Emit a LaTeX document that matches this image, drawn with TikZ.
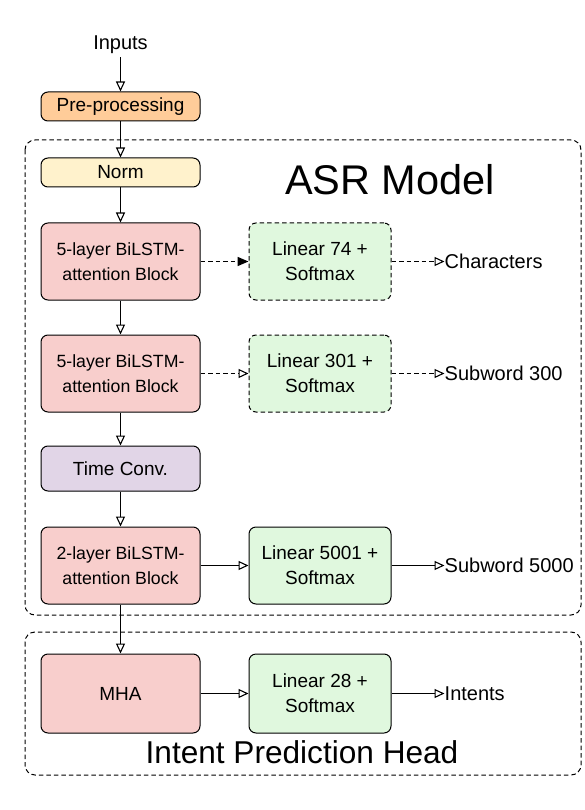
\documentclass[tikz,border=0pt]{standalone}
\usepackage{fontspec}
\setmainfont{Liberation Sans}
\usetikzlibrary{arrows.meta,positioning,calc}

\definecolor{prepfill}{HTML}{FFCC99}
\definecolor{normfill}{HTML}{FFF2CC}
\definecolor{blockfill}{HTML}{F8CECC}
\definecolor{linfill}{HTML}{E0F8DE}
\definecolor{convfill}{HTML}{E1D5E7}

\begin{document}
\begin{tikzpicture}[
    x=1pt, y=1pt,
    >=Stealth,
    node distance=34pt and 48pt,
    box/.style={draw, line width=1pt, rounded corners=7pt, minimum width=159pt, align=center, font=\fontsize{19}{24}\selectfont},
    prepbox/.style={box, fill=prepfill, minimum height=29pt},
    normbox/.style={box, fill=normfill, minimum height=29pt},
    blstm/.style={box, fill=blockfill, minimum height=77pt, font=\fontsize{17.7}{25}\selectfont},
    convbox/.style={box, fill=convfill, minimum height=45pt},
    linear/.style={box, fill=linfill, minimum width=142pt, minimum height=77pt, font=\fontsize{19}{25}\selectfont},
    outtext/.style={anchor=west, inner sep=0pt, font=\fontsize{20}{24}\selectfont},
    group/.style={draw, line width=1pt, dash pattern=on 4.5pt off 3pt, rounded corners=10pt},
    arr/.style={-{Triangle[open, length=10pt, width=9pt]}, line width=1.1pt},
    darr/.style={arr, dash pattern=on 4.5pt off 3pt},
]
\useasboundingbox (0,0) rectangle (584,-810);

% Input
\node[font=\fontsize{20}{24}\selectfont, inner sep=3pt] (inputs) at (120.5,-45) {Inputs};
\node[prepbox] (prep) at (120.5,-106.5) {Pre-processing};

% ASR model
\draw[group] (25,-140) rectangle (581,-615);
\node[font=\fontsize{41.5}{50}\selectfont] (asr) at (390,-180) {ASR Model};

\node[normbox, below=36pt of prep] (norm) {Norm};
\node[blstm, below=35pt of norm] (blk1) {5-layer BiLSTM-\\attention Block};
\node[linear, dash pattern=on 4.5pt off 3pt, right=48pt of blk1] (lin1) {Linear 74 +\\Softmax};
\node[outtext, right=53pt of lin1] (chars) {Characters};

\node[blstm, below=of blk1] (blk2) {5-layer BiLSTM-\\attention Block};
\node[linear, dash pattern=on 4.5pt off 3pt, right=48pt of blk2] (lin2) {Linear 301 +\\Softmax};
\node[outtext, right=53pt of lin2] (sub300) {Subword 300};

\node[convbox, below=33pt of blk2] (conv) {Time Conv.};

\node[blstm, below=35pt of conv] (blk3) {2-layer BiLSTM-\\attention Block};
\node[linear, right=48pt of blk3] (lin3) {Linear 5001 +\\Softmax};
\node[outtext, right=53pt of lin3] (sub5000) {Subword 5000};

% Intent head
\draw[group] (25,-632) rectangle (581,-775);
\node[font=\fontsize{31.6}{37}\selectfont] (iph) at (302,-752) {Intent Prediction Head};

\node[blstm, minimum height=79pt, below=49pt of blk3, font=\fontsize{19}{24}\selectfont] (mha) {MHA};
\node[linear, minimum height=79pt, right=48pt of mha] (lin4) {Linear 28 +\\Softmax};
\node[outtext, right=53pt of lin4] (intents) {Intents};

% Arrows
\draw[arr] (inputs) -- (prep);
\draw[arr] (prep) -- (norm);
\draw[arr] (norm) -- (blk1);
\draw[darr, -{Triangle[length=11pt, width=9pt]}, line width=1.6pt] (blk1) -- (lin1);
\draw[darr] (lin1) -- (chars);
\draw[arr] (blk1) -- (blk2);
\draw[darr] (blk2) -- (lin2);
\draw[darr] (lin2) -- (sub300);
\draw[arr] (blk2) -- (conv);
\draw[arr] (conv) -- (blk3);
\draw[arr] (blk3) -- (lin3);
\draw[arr] (lin3) -- (sub5000);
\draw[arr] (blk3) -- (mha);
\draw[arr] (mha) -- (lin4);
\draw[arr] (lin4) -- (intents);

\end{tikzpicture}
\end{document}
